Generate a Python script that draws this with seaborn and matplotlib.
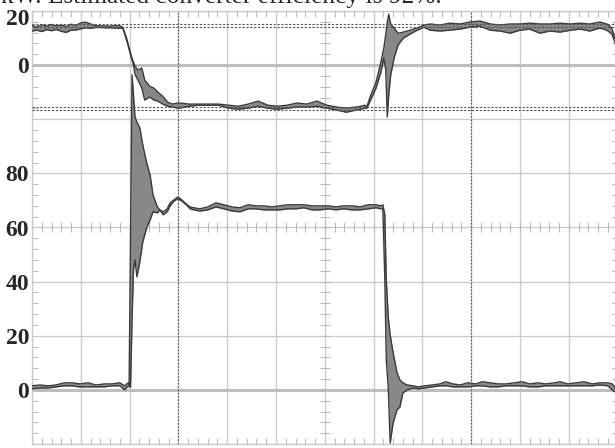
import numpy as np
import pandas as pd
import seaborn as sns
import matplotlib.pyplot as plt
import matplotlib.transforms as mtransforms

# time axis in screen divisions
# upper trace: converter voltage (V), drawn 6 divisions higher
v_t = [0.0, 0.1, 0.2, 0.3, 0.4, 0.5, 0.6, 0.7, 0.8, 0.9, 1.0, 1.1, 1.2, 1.3, 1.4, 1.5, 1.6, 1.7, 1.8,
       1.86, 1.95, 2.03, 2.07, 2.11, 2.17, 2.25, 2.31, 2.41, 2.50, 2.58, 2.68, 2.78, 2.88, 2.98,
       3.02, 3.22, 3.42, 3.62, 3.82, 4.02, 4.23, 4.43, 4.63, 4.83, 5.03, 5.23, 5.43, 5.63, 5.84, 6.04,
       6.24, 6.44, 6.64, 6.74, 6.82,
       6.86, 6.94, 7.05, 7.15, 7.21, 7.25, 7.28, 7.31, 7.35, 7.42, 7.50, 7.61, 7.75, 7.89, 8.03,
       8.16, 8.36, 8.56, 8.77, 8.97, 9.18, 9.39, 9.59, 9.80, 10.00, 10.20, 10.41, 10.61, 10.82, 11.03,
       11.23, 11.43, 11.64, 11.78, 11.88, 11.96]
v_hi = [14.6, 14.2, 14.9, 14.4, 15.0, 14.5, 14.8, 14.3, 15.1, 14.7, 15.6, 15.9, 15.2, 14.6, 14.5, 14.5, 14.4, 14.6, 14.5,
        14.0, 9.2, 3.7, 1.5, -0.4, -1.8, -1.1, -5.5, -7.8, -8.5, -10.0, -11.5, -13.7, -14.4, -14.0,
        -14.0, -14.4, -14.4, -14.4, -14.4, -14.8, -15.2, -14.4, -13.3, -14.8, -15.2, -14.8, -14.0, -14.4, -13.3, -14.8,
        -15.5, -15.9, -15.5, -15.2, -14.8,
        -15.5, -11.1, -6.3, 1.1, 6.3, 11.5, 15.9, 18.8, 15.2, 13.7, 11.8, 12.2, 12.9, 13.7, 14.8,
        15.2, 14.8, 15.5, 15.2, 15.9, 16.3, 15.2, 14.8, 15.2, 15.2, 15.5, 15.2, 15.2, 15.5, 15.2,
        15.5, 15.2, 15.9, 15.2, 13.7, 9.2]
v_lo = [12.6, 12.9, 12.4, 13.1, 12.7, 13.2, 12.5, 12.1, 12.9, 13.0, 13.4, 13.8, 13.6, 13.9, 13.9, 13.8, 13.8, 13.7, 13.6,
        13.7, 8.5, 3.0, 0.7, -3.3, -5.5, -8.5, -12.9, -11.8, -12.9, -13.3, -14.4, -15.2, -15.5, -15.9,
        -15.9, -15.2, -14.8, -14.8, -14.8, -15.9, -16.3, -15.9, -15.2, -15.9, -16.3, -15.9, -15.5, -15.5, -15.2, -15.9,
        -16.6, -17.4, -16.6, -16.3, -15.9,
        -15.9, -12.9, -8.5, -2.6, 2.6, -1.8, -19.2, -11.1, -3.7, 2.6, 7.4, 10.0, 11.5, 12.9, 14.0,
        12.9, 12.6, 12.9, 13.3, 14.0, 14.4, 12.9, 12.6, 11.8, 12.9, 13.3, 11.8, 12.6, 12.2, 12.9,
        13.3, 12.6, 13.7, 12.9, 11.5, 7.8]

# lower trace: converter current (A)
i_t = [0.0, 0.16, 0.33, 0.49, 0.66, 0.82, 0.98, 1.15, 1.31, 1.48, 1.64, 1.80, 1.90, 1.97,
       1.99, 2.02, 2.05, 2.08, 2.11, 2.15, 2.21, 2.27, 2.35, 2.42, 2.48, 2.57, 2.62, 2.69, 2.77, 2.83,
       2.91, 2.99, 3.07, 3.16, 3.24, 3.32,
       3.44, 3.60, 3.77, 3.93, 4.10, 4.26, 4.43, 4.59, 4.75, 4.92, 5.08, 5.24, 5.41, 5.57, 5.74, 5.90,
       6.07, 6.23, 6.39, 6.56, 6.72, 6.89, 7.05, 7.15,
       7.19, 7.23, 7.26, 7.30, 7.34, 7.40, 7.48, 7.54, 7.60, 7.69, 7.81,
       7.91, 8.05, 8.20, 8.36, 8.48, 8.63, 8.77, 8.93, 9.10, 9.22, 9.39, 9.55, 9.71, 9.88, 10.04, 10.20,
       10.37, 10.53, 10.70, 10.82, 10.98, 11.15, 11.31, 11.48, 11.64, 11.80, 11.89, 11.97]
i_hi = [1.5, 1.8, 1.5, 1.8, 2.6, 2.6, 2.2, 2.6, 1.8, 2.2, 2.2, 2.6, 1.5, 2.6,
        1.8, 59.1, 116.4, 109.0, 100.9, 99.0, 96.8, 90.5, 83.9, 79.4, 72.0, 67.6, 66.5, 65.8, 66.9, 69.1,
        70.2, 71.3, 70.2, 68.7, 67.6, 67.3,
        66.9, 67.6, 69.1, 68.4, 67.6, 67.3, 68.4, 68.0, 68.0, 67.6, 68.0, 68.4, 68.4, 68.4, 68.0, 68.0,
        68.0, 67.6, 68.0, 68.0, 67.6, 68.4, 68.4, 68.0,
        68.4, 64.7, 40.7, 27.0, 20.3, 13.7, 6.3, 3.7, 2.6, 1.8, 1.5,
        1.1, 1.5, 1.8, 2.2, 3.0, 2.2, 1.8, 2.6, 2.2, 3.0, 2.6, 2.2, 2.2, 2.6, 3.0, 2.2,
        2.6, 2.2, 2.6, 3.0, 2.2, 2.6, 3.0, 2.2, 2.6, 2.6, 2.2, 0.4]
i_lo = [0.4, 0.7, 0.7, 1.1, 1.5, 1.5, 1.1, 1.1, 1.1, 1.1, 1.5, 1.5, 0.0, 1.5,
        1.1, 1.1, 25.9, 44.3, 48.0, 41.8, 47.3, 54.7, 59.9, 62.8, 65.8, 65.4, 66.5, 64.7, 65.8, 68.0,
        69.8, 70.6, 69.8, 68.4, 66.9, 66.5,
        66.1, 66.5, 67.6, 66.9, 66.1, 65.8, 66.9, 66.9, 66.5, 66.5, 66.5, 66.9, 66.9, 67.3, 66.5, 66.5,
        66.9, 66.5, 66.9, 66.5, 66.5, 66.9, 67.3, 66.9,
        66.9, 40.7, 11.1, 1.1, -19.6, -12.2, -7.4, -6.3, -1.1, 0.0, 0.7,
        0.4, 0.7, 1.1, 1.5, 1.5, 1.1, 1.1, 1.1, 1.5, 1.5, 1.1, 1.1, 1.5, 1.5, 1.5, 1.1,
        1.1, 1.5, 1.5, 1.5, 1.5, 1.5, 1.5, 1.5, 1.8, 1.5, 0.0, -1.1]

V_OFFSET = 120
y_ticks = [-20, 0, 20, 40, 60, 80, 100, 120, 140]
y_labels = ['', '0', '20', '40', '60', '80', '', '0', '20']
v_cursors = [15.2, 14.1, -15.5, -16.4]
t_cursors = [3, 9]
title = 'kW. Estimated converter efficiency is 92%.'

sns.set_style('white')
plt.rcParams['font.family'] = ['Liberation Serif', 'DejaVu Serif']

# long table of the envelope edges
rows = []
for t, hi, lo in zip(v_t, v_hi, v_lo):
    rows.append(('V', 'hi', t, hi + V_OFFSET))
    rows.append(('V', 'lo', t, lo + V_OFFSET))
for t, hi, lo in zip(i_t, i_hi, i_lo):
    rows.append(('I', 'hi', t, hi))
    rows.append(('I', 'lo', t, lo))
df = pd.DataFrame(rows, columns=['trace', 'edge', 't', 'value'])
df['line'] = df['trace'] + df['edge']

fig = plt.figure(figsize=(6.15, 4.48), dpi=100)
ax = fig.add_axes([32 / 615, 4 / 448, 585.6 / 615, 433 / 448])

grid_c = '#cccccc'
ax.fill_between(v_t, np.array(v_hi) + V_OFFSET, np.array(v_lo) + V_OFFSET, color='#888888', lw=0, zorder=3)
ax.fill_between(i_t, i_hi, i_lo, color='#888888', lw=0, zorder=3)
sns.lineplot(data=df, x='t', y='value', units='line', estimator=None, sort=False,
             color='#3a3a3a', lw=1.0, ax=ax, zorder=4, legend=False)

ax.set_xlim(0, 12)
ax.set_ylim(-20, 140)
ax.set_xticks(range(13))
ax.set_xticklabels([])
ax.set_yticks(y_ticks)
ax.set_yticklabels(y_labels, fontsize=17, fontweight='bold')
ax.set_xticks(np.arange(0, 12.01, 0.2), minor=True)
ax.set_yticks(np.arange(-20, 140.1, 4), minor=True)
ax.tick_params(which='major', length=0, pad=2)
ax.tick_params(which='minor', direction='in', length=4, width=0.8, color='#bbbbbb',
               top=True, right=True, bottom=True, left=True)
ax.grid(True, which='major', color=grid_c, lw=1.0)
ax.set_axisbelow(True)
for s in ax.spines.values():
    s.set_color(grid_c)
    s.set_linewidth(1.0)
ax.set_xlabel('')
ax.set_ylabel('')

# top label sits a little below its grid line on the screen
top_lab = ax.get_yticklabels()[-1]
top_lab.set_transform(top_lab.get_transform() + mtransforms.ScaledTranslation(0, -4 / 72, fig.dpi_scale_trans))

# zero lines of both traces
ax.axhline(0, color='#bdbdbd', lw=2.2, zorder=1)
ax.axhline(V_OFFSET, color='#bdbdbd', lw=2.2, zorder=1)

# centre cross-hair ticks
mx = np.arange(0, 12.01, 0.2)
my = np.arange(-20, 140.1, 4)
ax.plot(mx, np.full(len(mx), 60), ls='none', marker='|', ms=7, mew=0.8, color='#bbbbbb', zorder=1)
ax.plot(np.full(len(my), 6), my, ls='none', marker='_', ms=7, mew=0.8, color='#bbbbbb', zorder=1)

# cursors
for c in v_cursors:
    ax.axhline(c + V_OFFSET, color='#555555', lw=0.8, dashes=(2, 1.5), zorder=5)
for c in t_cursors:
    ax.axvline(c, color='#555555', lw=0.8, dashes=(1.5, 1.5), zorder=5)

fig.text(442 / 615, 1 - 3 / 448, title, ha='right', va='baseline', fontsize=18.3)

fig.savefig('out.png', dpi=100)
